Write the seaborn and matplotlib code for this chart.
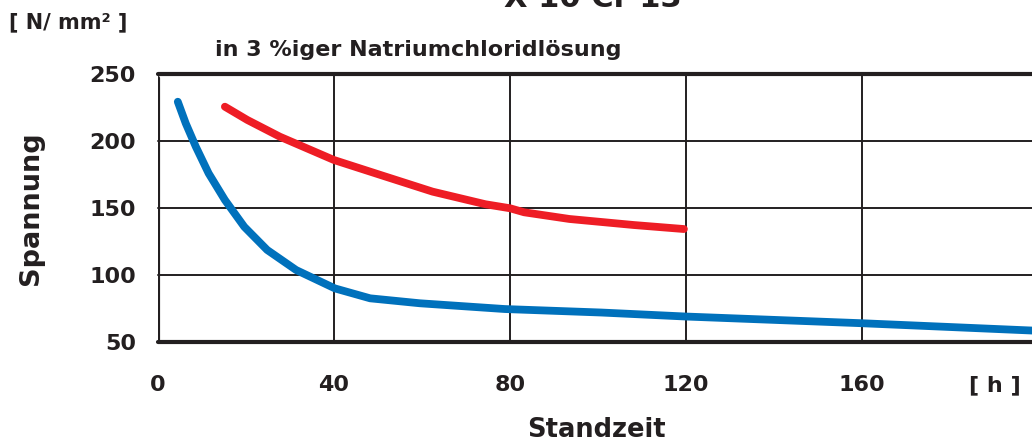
import matplotlib

matplotlib.use("Agg")
import matplotlib.pyplot as plt
import pandas as pd
import seaborn as sns

# Werte (Standzeit in h, Spannung in N/mm²)
blue_hours = [4.5, 6.3, 8.6, 11.5, 15.2, 19.6, 24.8, 31.4, 40.2, 48.2, 59.5,
              78.8, 100.7, 120.0, 160.0, 199.0]
blue_stress = [229.3, 213.2, 195.7, 175.9, 156, 136, 118.7, 103.7, 90, 82.6, 78.9,
               74.6, 72, 69, 64, 58.5]

red_hours = [15.2, 20.3, 27.7, 40.0, 50.6, 62.4, 74.4, 80.0, 83.2, 93.5, 108.1, 119.5]
red_stress = [225.6, 215.7, 203.2, 185.8, 174.6, 162.2, 152.8, 149.8, 146.8, 141.8,
              137.3, 134.3]

x_ticks = [0, 40, 80, 120, 160]
y_ticks = [50, 100, 150, 200, 250]

BLUE = "#0071BC"
RED = "#EE1D25"
INK = "#231F20"

sns.set_style("white")
plt.rcParams["font.family"] = ["DejaVu Sans"]
plt.rcParams["font.weight"] = "bold"

fig = plt.figure(figsize=(10.32, 4.48), dpi=100)
ax = fig.add_axes([158 / 1032, 1 - 342 / 448, 1 - 158 / 1032, (342 - 74) / 448])

blue = pd.DataFrame({"h": blue_hours, "s": blue_stress})
red = pd.DataFrame({"h": red_hours, "s": red_stress})
sns.lineplot(data=blue, x="h", y="s", color=BLUE, linewidth=5.6, ax=ax, zorder=3)
sns.lineplot(data=red, x="h", y="s", color=RED, linewidth=5.6, ax=ax, zorder=3)
for ln in ax.lines:
    ln.set_solid_joinstyle("round")

ax.set_xlim(0, 198.6)
ax.set_ylim(50, 250)

# Gitter: dicke Linien bei 50 und 250, dünne dazwischen
for y in y_ticks:
    lw = 3.0 if y in (50, 250) else 1.4
    ax.axhline(y, color=INK, linewidth=lw, zorder=2, clip_on=False)
for x in x_ticks[1:]:
    ax.axvline(x, color=INK, linewidth=1.4, zorder=2)
ax.axvline(0, ymax=0.985, color=INK, linewidth=3.0, zorder=2)

for side in ax.spines.values():
    side.set_visible(False)

ax.set_xticks(x_ticks + [190.2])
ax.set_xticklabels([str(v) for v in x_ticks] + ["[ h ]"])
ax.set_yticks(y_ticks)
ax.tick_params(axis="x", direction="out", length=10, width=1.4, color=INK,
               pad=14, labelsize=16, labelcolor=INK)
ax.tick_params(axis="y", direction="out", length=11, width=1.4, color=INK,
               pad=5, labelsize=16, labelcolor=INK)
xt = ax.xaxis.get_major_ticks()
xt[0].tick1line.set_markeredgewidth(3.0)
xt[-1].tick1line.set_visible(False)
for y_tick in ax.yaxis.get_major_ticks():
    if y_tick.get_loc() in (50, 250):
        y_tick.tick1line.set_markeredgewidth(3.0)

ax.set_xlabel("")
ax.set_ylabel("")

# Titel ist im Original oben angeschnitten
fig.text(593 / 1032, 1 - 7 / 448, "X 10 Cr 13", ha="center", va="baseline",
         fontsize=22, fontweight="bold", color=INK)
fig.text(9 / 1032, 1 - 22 / 448, "[ N/ mm² ]", ha="left", va="center",
         fontsize=15, fontweight="bold", color=INK)
fig.text(215 / 1032, 1 - 50 / 448, "in 3 %iger Natriumchloridlösung", ha="left",
         va="center", fontsize=16, fontweight="bold", color=INK)
fig.text(31 / 1032, 1 - 208 / 448, "Spannung", ha="center", va="center",
         rotation=90, fontsize=19.5, fontweight="bold", color=INK)
fig.text(596 / 1032, 1 - 430 / 448, "Standzeit", ha="center", va="center",
         fontsize=18.5, fontweight="bold", color=INK)

fig.savefig("out.png", dpi=100)
